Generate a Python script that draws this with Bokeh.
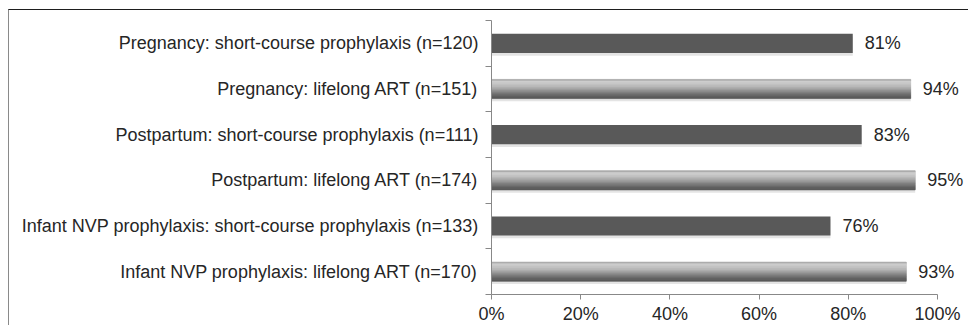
from bokeh.plotting import figure
from bokeh.models import (ColumnDataSource, Range1d, FixedTicker, LabelSet,
                          PrintfTickFormatter)
from bokeh.core.properties import value
from bokeh.embed import file_html
from bokeh.resources import INLINE

# ---------------- data ----------------
categories = [
    "Pregnancy: short-course prophylaxis (n=120)",
    "Pregnancy: lifelong ART (n=151)",
    "Postpartum: short-course prophylaxis (n=111)",
    "Postpartum: lifelong ART (n=174)",
    "Infant NVP prophylaxis: short-course prophylaxis (n=133)",
    "Infant NVP prophylaxis: lifelong ART (n=170)",
]
values = [81, 94, 83, 95, 76, 93]
regimen = ["short", "lifelong", "short", "lifelong", "short", "lifelong"]
x_ticks = [0, 20, 40, 60, 80, 100]

# ---------------- derived ----------------
n = len(categories)
centers = [i + 0.5 for i in range(n)]
labels_txt = [f"{v}%" for v in values]

FONT = "Liberation Sans"
TXT = "#262626"
AX = "#888888"
BAR_H = 0.42

# frame spans 482..960 px in the figure; 0..100 maps to 482..928 px
x_end = 100 + (960 - 928) / 446 * 100

p = figure(width=960, height=316, output_backend="svg", toolbar_location=None,
           x_range=Range1d(0, x_end), y_range=Range1d(n, 0),
           min_border_left=482, min_border_right=0,
           min_border_top=10, min_border_bottom=32)
p.styles = {"margin-left": "8px", "margin-top": "9px",
            "border-top": "1px solid #1e1e1e", "border-left": "1px solid #8a8a8a"}
p.outline_line_color = None
p.xgrid.visible = False
p.ygrid.visible = False
p.background_fill_color = "white"
p.border_fill_color = "white"

# shadows
sh = ColumnDataSource(dict(y=[c + 0.06 for c in centers], right=values))
p.hbar(y="y", left=0, right="right", height=BAR_H, source=sh,
       fill_color="#e4e4e4", line_color=None)

# dark (short-course) bars
short_idx = [i for i in range(n) if regimen[i] == "short"]
src_s = ColumnDataSource(dict(y=[centers[i] for i in short_idx],
                              right=[values[i] for i in short_idx]))
p.hbar(y="y", left=0, right="right", height=BAR_H, source=src_s,
       fill_color="#595959", line_color=None)

# light (lifelong) bars with vertical gradient drawn as overlapping strips
grad = ["#acacac", "#cdcdcd", "#cbcbcb", "#c4c4c4", "#b9b9b9", "#acacac",
        "#9d9d9d", "#8d8d8d", "#7d7d7d", "#6e6e6e", "#626262", "#5a5a5a"]
long_idx = [i for i in range(n) if regimen[i] == "lifelong"]
k = len(grad)
sh_h = BAR_H / k
# base bar first (covers gaps), then strips
src_b = ColumnDataSource(dict(y=[centers[i] for i in long_idx],
                              right=[values[i] for i in long_idx]))
p.hbar(y="y", left=0, right="right", height=BAR_H, source=src_b,
       fill_color="#9a9a9a", line_color=None)
for j, col in enumerate(grad):
    ys = [centers[i] - BAR_H / 2 + sh_h * (j + 0.5) for i in long_idx]
    src = ColumnDataSource(dict(y=ys, right=[values[i] for i in long_idx]))
    p.hbar(y="y", left=0, right="right", height=sh_h, source=src,
           fill_color=col, line_color=col, line_width=0.6)

# value labels
lab_src = ColumnDataSource(dict(x=values, y=centers, t=labels_txt))
p.add_layout(LabelSet(x="x", y="y", text="t", source=lab_src, x_offset=12,
                      text_baseline="middle", text_align="left",
                      text_font=value(FONT), text_font_size=value("18px"),
                      text_color=value(TXT)))

# x axis
xa = p.xaxis[0]
xa.bounds = (0, 100)
xa.ticker = FixedTicker(ticks=x_ticks)
xa.formatter = PrintfTickFormatter(format="%d%%")
xa.axis_line_color = AX
xa.major_tick_line_color = AX
xa.major_tick_out = 5
xa.major_tick_in = 0
xa.minor_tick_line_color = None
xa.major_label_text_font = FONT
xa.major_label_text_font_size = "18px"
xa.major_label_text_color = TXT
xa.major_label_standoff = 4

# y axis
ya = p.yaxis[0]
ya.ticker = FixedTicker(ticks=centers, minor_ticks=list(range(n + 1)))
ya.major_label_overrides = {c: categories[i] for i, c in enumerate(centers)}
ya.axis_line_color = AX
ya.major_tick_line_color = None
ya.major_tick_out = 0
ya.major_tick_in = 0
ya.minor_tick_line_color = AX
ya.minor_tick_out = 6
ya.minor_tick_in = 0
ya.major_label_text_font = FONT
ya.major_label_text_font_size = "18px"
ya.major_label_text_color = TXT
ya.major_label_standoff = 7

open("out.html", "w").write(file_html(p, INLINE))
